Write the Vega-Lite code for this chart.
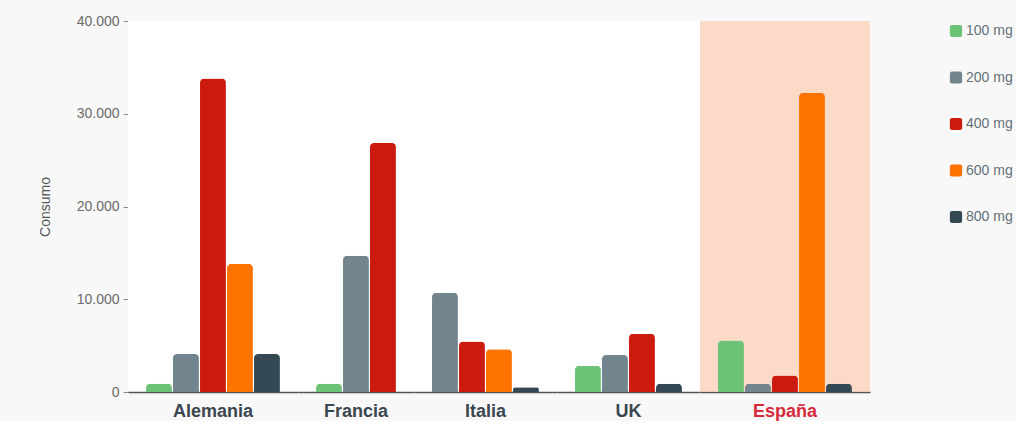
{
  "$schema": "https://vega.github.io/schema/vega-lite/v6.json",
  "background": "#f8f8f8",
  "padding": {"left": 38, "top": 14, "right": 0, "bottom": 0},
  "data": {
    "values": [
      {"pais": "Alemania", "dosis": "100 mg", "consumo": 900},
      {"pais": "Alemania", "dosis": "200 mg", "consumo": 4100},
      {"pais": "Alemania", "dosis": "400 mg", "consumo": 33800},
      {"pais": "Alemania", "dosis": "600 mg", "consumo": 13800},
      {"pais": "Alemania", "dosis": "800 mg", "consumo": 4100},
      {"pais": "Francia", "dosis": "100 mg", "consumo": 900},
      {"pais": "Francia", "dosis": "200 mg", "consumo": 14700},
      {"pais": "Francia", "dosis": "400 mg", "consumo": 26850},
      {"pais": "Italia", "dosis": "200 mg", "consumo": 10700},
      {"pais": "Italia", "dosis": "400 mg", "consumo": 5450},
      {"pais": "Italia", "dosis": "600 mg", "consumo": 4620},
      {"pais": "Italia", "dosis": "800 mg", "consumo": 500},
      {"pais": "UK", "dosis": "100 mg", "consumo": 2830},
      {"pais": "UK", "dosis": "200 mg", "consumo": 3980},
      {"pais": "UK", "dosis": "400 mg", "consumo": 6270},
      {"pais": "UK", "dosis": "800 mg", "consumo": 900},
      {"pais": "España", "dosis": "100 mg", "consumo": 5550},
      {"pais": "España", "dosis": "200 mg", "consumo": 900},
      {"pais": "España", "dosis": "400 mg", "consumo": 1790},
      {"pais": "España", "dosis": "600 mg", "consumo": 32250},
      {"pais": "España", "dosis": "800 mg", "consumo": 900}
    ]
  },
  "facet": {
    "column": {
      "field": "pais",
      "type": "nominal",
      "sort": ["Alemania", "Francia", "Italia", "UK", "España"],
      "title": null,
      "header": {
        "labelOrient": "bottom",
        "labelPadding": 11,
        "labelFont": "Liberation Sans",
        "labelFontSize": 18,
        "labelFontWeight": "bold",
        "labelColor": {"expr": "parent['pais'] === 'España' ? '#d62a3b' : '#3b4750'"}
      }
    }
  },
  "spacing": 0,
  "resolve": {"scale": {"x": "independent"}},
  "spec": {
    "height": 371,
    "width": {"step": 27},
    "layer": [
      {
        "transform": [
          {"filter": "datum.pais === 'España'"},
          {"aggregate": [{"op": "count", "as": "n"}], "groupby": ["pais"]}
        ],
        "mark": {"type": "rect", "color": "#f9c3a3", "opacity": 0.6},
        "encoding": {
          "y": {"datum": 0, "type": "quantitative"},
          "y2": {"datum": 40000}
        }
      },
      {
        "mark": {"type": "bar", "cornerRadiusTopLeft": 4, "cornerRadiusTopRight": 4},
        "encoding": {
          "x": {
            "field": "dosis",
            "type": "nominal",
            "sort": ["100 mg", "200 mg", "400 mg", "600 mg", "800 mg"],
            "scale": {"paddingInner": 0.04, "paddingOuter": 0.667},
            "axis": {"labels": false, "ticks": false, "title": null, "domainColor": "#555555", "domainWidth": 1.3, "grid": false}
          },
          "y": {
            "field": "consumo",
            "type": "quantitative",
            "scale": {"domain": [0, 40000], "nice": false},
            "axis": {
              "title": "Consumo",
              "values": [0, 10000, 20000, 30000, 40000],
              "labelExpr": "replace(format(datum.value, ','), ',', '.')",
              "gridColor": "#a0a0a0",
              "gridWidth": 1,
              "domainColor": "#8a8a8a",
              "tickColor": "#8a8a8a",
              "tickSize": 5,
              "labelFont": "Liberation Sans",
              "labelFontSize": 14,
              "labelColor": "#6a6a6a",
              "labelPadding": 4,
              "titleFont": "Liberation Sans",
              "titleFontSize": 14,
              "titleFontWeight": "normal",
              "titleColor": "#555555",
              "titlePadding": 24
            }
          },
          "color": {
            "field": "dosis",
            "type": "nominal",
            "scale": {
              "domain": ["100 mg", "200 mg", "400 mg", "600 mg", "800 mg"],
              "range": ["#6cc277", "#72858f", "#cc1a0f", "#ff7400", "#344954"]
            },
            "legend": {
              "title": null,
              "orient": "right",
              "offset": 76,
              "symbolType": "M-0.65,-1H0.65Q1,-1,1,-0.65V0.65Q1,1,0.65,1H-0.65Q-1,1,-1,0.65V-0.65Q-1,-1,-0.65,-1Z",
              "symbolSize": 150,
              "symbolOpacity": 1,
              "symbolStrokeWidth": 0,
              "labelFont": "Liberation Sans",
              "labelFontSize": 14,
              "labelColor": "#637079",
              "labelOffset": 3,
              "rowPadding": 32.5,
              "padding": 3
            }
          }
        }
      }
    ]
  },
  "config": {
    "view": {"stroke": null, "fill": "#ffffff"}
  }
}
